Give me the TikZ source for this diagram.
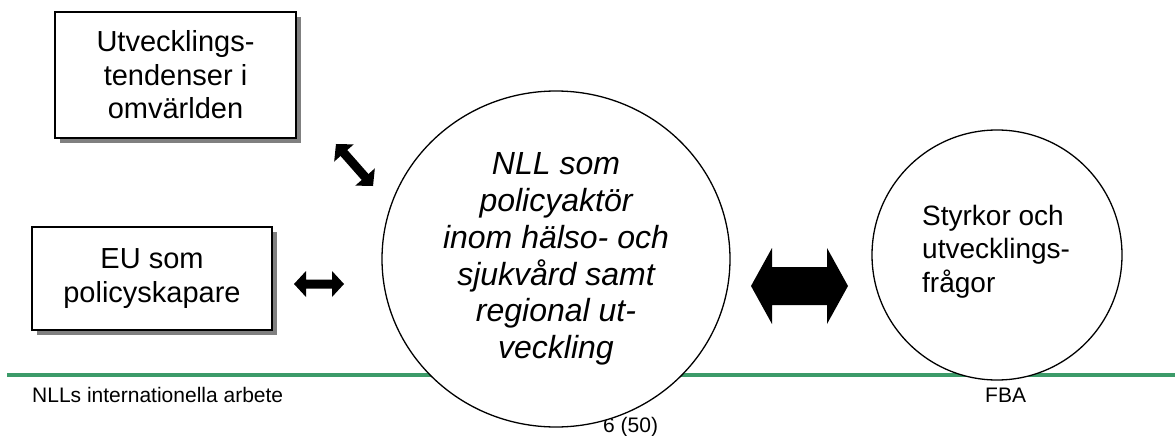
\documentclass[tikz,border=0pt]{standalone}
\usepackage{fontspec}
\setmainfont{Liberation Sans}
\usetikzlibrary{shapes.geometric,shadows}
\definecolor{rulegreen}{RGB}{60,155,105}
\definecolor{shadowgrey}{RGB}{128,128,128}
\newcommand\dblarrow[8]{%
  \fill[shift={(#1,#2)},rotate=#3]
    (-#4,0) -- (-#4+#7,#6) -- (-#4+#7,#5) -- (#4-#7,#5) -- (#4-#7,#6) -- (#4,0)
    -- (#4-#7,-#6) -- (#4-#7,-#5) -- (-#4+#7,-#5) -- (-#4+#7,-#6) -- cycle;
  \coordinate (#8) at (#1,#2);}
\tikzset{
  shadowbox/.style={draw=black, line width=1.5pt, fill=white, inner sep=0pt,
    align=center, font=\fontsize{29}{33.5}\selectfont,
    drop shadow={shadow xshift=5pt, shadow yshift=-5pt, fill=shadowgrey, opacity=1}},
  bigoval/.style={draw=black, line width=1.3pt, fill=white, ellipse, inner sep=0pt,
    align=center, font=\fontsize{32}{36.7}\selectfont\itshape},
  roundnode/.style={draw=black, line width=1.3pt, fill=white, circle, inner sep=0pt},
  roundtext/.style={inner sep=0pt, align=left, anchor=north west,
    font=\fontsize{28}{33.5}\selectfont},
  footer/.style={inner sep=0pt, anchor=base west, font=\fontsize{21}{24}\selectfont},
}
\begin{document}
\begin{tikzpicture}[x=1pt,y=-1pt]
\useasboundingbox (0,0) rectangle (1175,436);
% footer
\draw[rulegreen, line width=4pt] (7,375) coordinate (ruleL) -- (1175,375) coordinate (ruleR);
\node[footer] (ftitle) at (32,402) {NLLs internationella arbete};
\node[footer] (fba) at (985,402) {FBA};
\node[footer] (fpage) at (603,432) {6 (50)};
% main shapes
\node[bigoval, minimum width=348pt, minimum height=336pt] (nll) at (556,259)
  {NLL som\\policyaktör\\inom hälso- och\\sjukvård samt\\regional ut-\\veckling};
\node[roundnode, minimum size=250pt] (sty) at (997,255) {};
\node[roundtext] (stytext) at (922,205) {Styrkor och\\utvecklings-\\frågor};
\node[shadowbox, minimum width=241pt, minimum height=126pt] (utv) at (175.5,75)
  {Utvecklings-\\tendenser i\\omvärlden};
\node[shadowbox, minimum width=240pt, minimum height=103pt] (eu) at (152,278.5)
  {EU som\\policyskapare};
% block arrows
\dblarrow{354.5}{165}{-48.6}{28}{4.5}{13}{12}{a1}
\dblarrow{319}{284}{0}{25}{4.5}{13}{12}{a2}
\dblarrow{799.5}{286}{0}{48.5}{19}{38}{21}{a3}
\end{tikzpicture}
\end{document}
